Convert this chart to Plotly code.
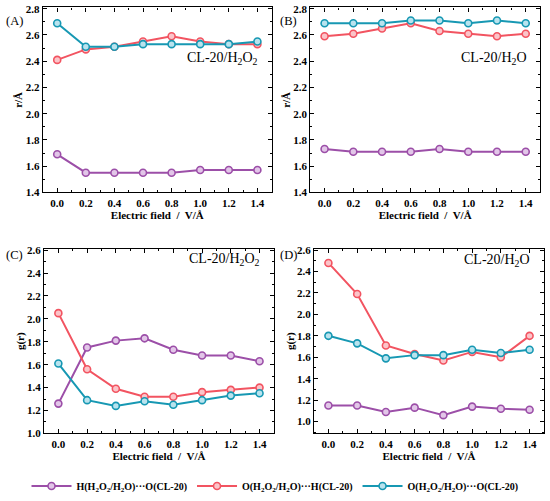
import plotly.graph_objects as go
from plotly.subplots import make_subplots

# DATA -----------------------------------------------------------------------
field = [0.0, 0.2, 0.4, 0.6, 0.8, 1.0, 1.2, 1.4]

names = ["H(H<sub>2</sub>O<sub>2</sub>/H<sub>2</sub>O)···O(CL-20)",
         "O(H<sub>2</sub>O<sub>2</sub>/H<sub>2</sub>O)···H(CL-20)",
         "O(H<sub>2</sub>O<sub>2</sub>/H<sub>2</sub>O)···O(CL-20)"]

# (A) r, CL-20/H2O2
a_hoc = [1.69, 1.55, 1.55, 1.55, 1.55, 1.57, 1.57, 1.57]
a_ohc = [2.41, 2.49, 2.51, 2.55, 2.59, 2.55, 2.53, 2.53]
a_ooc = [2.69, 2.51, 2.51, 2.53, 2.53, 2.53, 2.53, 2.55]

# (B) r, CL-20/H2O
b_hoc = [1.73, 1.71, 1.71, 1.71, 1.73, 1.71, 1.71, 1.71]
b_ohc = [2.59, 2.61, 2.65, 2.69, 2.63, 2.61, 2.59, 2.61]
b_ooc = [2.69, 2.69, 2.69, 2.71, 2.71, 2.69, 2.71, 2.69]

# (C) g(r), CL-20/H2O2
c_hoc = [1.26, 1.75, 1.81, 1.83, 1.73, 1.68, 1.68, 1.63]
c_ohc = [2.05, 1.56, 1.39, 1.32, 1.32, 1.36, 1.38, 1.40]
c_ooc = [1.61, 1.29, 1.24, 1.28, 1.25, 1.29, 1.33, 1.35]

# (D) g(r), CL-20/H2O
d_hoc = [1.15, 1.15, 1.09, 1.13, 1.06, 1.14, 1.12, 1.11]
d_ohc = [2.48, 2.19, 1.71, 1.63, 1.57, 1.65, 1.60, 1.80]
d_ooc = [1.80, 1.73, 1.59, 1.62, 1.62, 1.67, 1.64, 1.67]

r_ticks = [1.4, 1.6, 1.8, 2.0, 2.2, 2.4, 2.6, 2.8]
g_ticks = [1.0, 1.2, 1.4, 1.6, 1.8, 2.0, 2.2, 2.4, 2.6]

line_cols = ["#9c4fa8", "#f25461", "#1798b3"]
fill_cols = ["#e2c6e8", "#fbc4c9", "#b9e3ee"]

font = "Liberation Serif"

panels = [
    (1, 1, [a_hoc, a_ohc, a_ooc], "r/Å", [1.4, 2.81], r_ticks, "CL-20/H<sub>2</sub>O<sub>2</sub>", 2.42),
    (1, 2, [b_hoc, b_ohc, b_ooc], "r/Å", [1.4, 2.81], r_ticks, "CL-20/H<sub>2</sub>O", 2.42),
    (2, 1, [c_hoc, c_ohc, c_ooc], "g(r)", [1.0, 2.61], g_ticks, "CL-20/H<sub>2</sub>O<sub>2</sub>", 2.52),
    (2, 2, [d_hoc, d_ohc, d_ooc], "g(r)", [0.89, 2.61], g_ticks, "CL-20/H<sub>2</sub>O", 2.5),
]

# FIGURE ---------------------------------------------------------------------
fig = make_subplots(rows=2, cols=2)

for k, (r, c, series, ytitle, yrange, yticks, label, label_y) in enumerate(panels):
    for i, ys in enumerate(series):
        fig.add_trace(go.Scatter(
            x=field, y=ys, mode="lines+markers", name="<b>%s</b>" % names[i],
            legendgroup=names[i], showlegend=(k == 0),
            line=dict(color=line_cols[i], width=2),
            marker=dict(size=7, color=fill_cols[i], line=dict(color=line_cols[i], width=1.6)),
        ), row=r, col=c)
    fig.update_yaxes(range=yrange, tickvals=yticks, ticktext=["<b>%.1f</b>" % t for t in yticks],
                     title=dict(text="<b>%s</b>" % ytitle, standoff=0, font=dict(size=11, family=font)),
                     minor=dict(ticks="inside", ticklen=2, dtick=0.1, tickcolor="black"),
                     row=r, col=c)
    fig.update_xaxes(range=[-0.1, 1.5], tickvals=field, ticktext=["<b>%.1f</b>" % v for v in field],
                     title=dict(text="<b>Electric field  /  V/Å</b>", standoff=2, font=dict(size=11, family=font)),
                     minor=dict(ticks="inside", ticklen=2, dtick=0.1, tickcolor="black"),
                     row=r, col=c)
    sfx = "" if k == 0 else str(k + 1)
    fig.add_annotation(text=label, x=1.42, y=label_y, xref="x" + sfx, yref="y" + sfx,
                       xanchor="right", showarrow=False, font=dict(size=14, family=font, color="black"))

fig.update_xaxes(showline=True, linecolor="black", linewidth=1.2, mirror="ticks", automargin=False,
                 ticks="inside", ticklen=4, tickcolor="black", showgrid=False, zeroline=False,
                 tickfont=dict(size=11, family=font, color="black"))
fig.update_yaxes(showline=True, linecolor="black", linewidth=1.2, mirror="ticks", automargin=False,
                 ticks="inside", ticklen=4, tickcolor="black", showgrid=False, zeroline=False,
                 tickfont=dict(size=11, family=font, color="black"))

fig.layout.xaxis.domain = [0.078, 0.494]
fig.layout.xaxis2.domain = [0.564, 0.982]
fig.layout.xaxis3.domain = [0.080, 0.498]
fig.layout.xaxis4.domain = [0.571, 0.989]
fig.layout.yaxis.domain = [0.613, 0.985]
fig.layout.yaxis2.domain = [0.613, 0.985]
fig.layout.yaxis3.domain = [0.128, 0.499]
fig.layout.yaxis4.domain = [0.128, 0.499]

for txt, x, y in [("(A)", 0.008, 0.975), ("(B)", 0.505, 0.975), ("(C)", 0.008, 0.487), ("(D)", 0.505, 0.487)]:
    fig.add_annotation(text=txt, x=x, y=y, xref="paper", yref="paper", xanchor="left",
                       showarrow=False, font=dict(size=12.5, family=font, color="black"))

fig.update_layout(
    width=550, height=501,
    margin=dict(l=0, r=0, t=0, b=0),
    paper_bgcolor="white", plot_bgcolor="white",
    font=dict(family=font, color="black", size=11),
    legend=dict(orientation="h", x=0.5, xanchor="center", y=0.022, yanchor="middle",
                font=dict(size=10, family=font), itemwidth=40,
                bgcolor="rgba(0,0,0,0)"),
)

# page body has a default 8px margin; drop it so the figure sits at 0,0
fig.write_html("out.html", config={"displayModeBar": False},
               post_script="document.body.style.margin='0';")
